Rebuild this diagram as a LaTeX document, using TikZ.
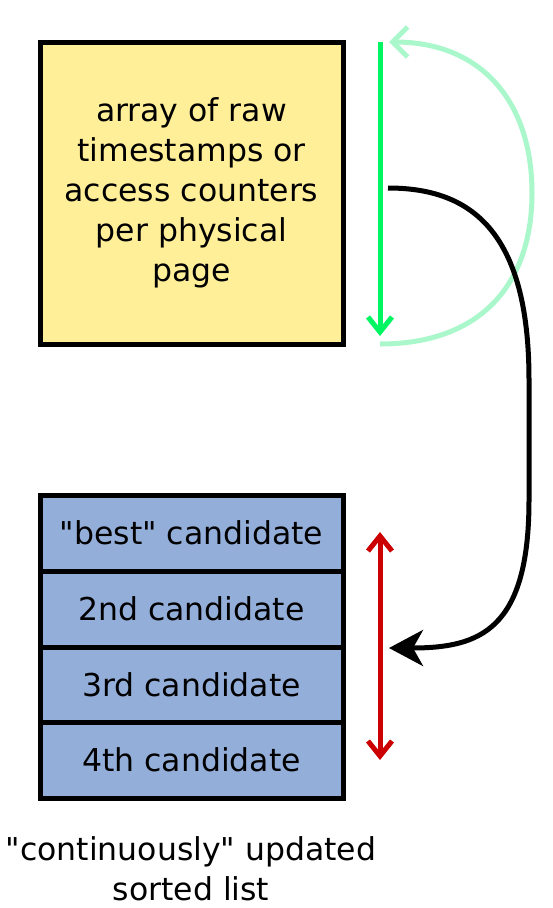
\documentclass[tikz,border=0pt]{standalone}
\usepackage{fontspec}
\setmainfont{DejaVu Sans}[Ligatures=TeXOff]
\usetikzlibrary{arrows.meta}
\definecolor{boxyellow}{HTML}{FFEF99}
\definecolor{boxblue}{HTML}{94AEDA}
\definecolor{brightgreen}{HTML}{00F562}
\definecolor{palegreen}{HTML}{AAF7CC}
\definecolor{darkred}{HTML}{CC0000}
\tikzset{
  lbl/.style={font=\fontsize{31.5}{40}\selectfont, align=center, inner sep=0pt},
  yellowbox/.style={draw=black, line width=5pt, fill=boxyellow, minimum width=303pt, minimum height=302pt, inner sep=0pt, lbl},
  cand/.style={draw=black, line width=5pt, fill=boxblue, minimum width=303pt, minimum height=76pt, inner sep=0pt, lbl},
  conn/.style={line width=5pt},
  barb/.tip={Straight Barb[length=15pt,width=24pt,line width=5pt]},
  widebarb/.tip={Straight Barb[length=15pt,width=30pt,line width=5pt]},
}
\begin{document}
\begin{tikzpicture}[x=1pt,y=-1pt]
\useasboundingbox (0,0) rectangle (553,908);
\node[yellowbox] (mem) at (191.5,193) {array of raw\\timestamps or\\access counters\\per physical\\page};
\node[cand] (c1) at (191.5,533) {"best" candidate};
\node[cand] (c2) at (191.5,609) {2nd candidate};
\node[cand] (c3) at (191.5,685) {3rd candidate};
\node[cand] (c4) at (191.5,760) {4th candidate};
\node[lbl] (cap) at (191,869) {"continuously" updated\\sorted list};
% coordinates
\coordinate (gtop) at (380,42);
\coordinate (gbot) at (380,336);
\coordinate (pstart) at (380,344);
\coordinate (pend) at (389,42);
\coordinate (bstart) at (388,188);
\coordinate (bend) at (389,648);
\coordinate (rtop) at (380,532);
\coordinate (rbot) at (380,760);
% green down arrow
\draw[conn, brightgreen, -{barb}] (gtop) -- (gbot);
% pale green return arc
\draw[conn, palegreen, -{widebarb}]
  (pstart) .. controls (480,344) and (532,285) .. (532,193)
  .. controls (532,100) and (480,42) .. (pend);
% black curve
\draw[conn, black, -{Stealth[length=34pt,width=36pt,inset=10pt]}]
  (bstart) .. controls (470,188) and (529,230) .. (529,380)
  -- (529,500) .. controls (529,630) and (480,648) .. (bend);
% red double arrow
\draw[conn, darkred, {barb}-{barb}] (rtop) -- (rbot);
\end{tikzpicture}
\end{document}
